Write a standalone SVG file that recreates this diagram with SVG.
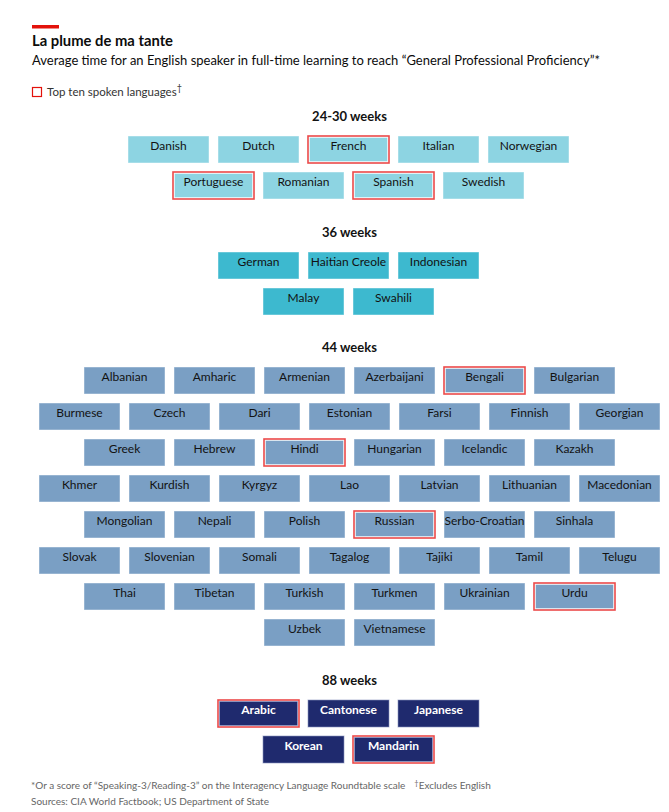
<svg xmlns="http://www.w3.org/2000/svg" width="669" height="812" viewBox="0 0 669 812">
<style>
text{font-family:Lato,"Noto Sans","Liberation Sans",sans-serif;}
.t{font-size:12px;fill:#121212;text-anchor:middle;}
.tw{font-size:12px;fill:#fff;font-weight:bold;text-anchor:middle;}
.h{font-size:13px;font-weight:bold;fill:#121212;text-anchor:middle;}
.b rect{stroke:#ffffff;stroke-opacity:0.45;stroke-width:1;}
.a rect{fill:#8dd4e2;}
.c rect{fill:#3db9cf;}
.d rect{fill:#7a9fc4;}
.e rect{fill:#1f2a6e;stroke:#8a92c0;stroke-opacity:0.6;}
.r rect.o{fill:none;stroke:#ec4a4a;stroke-opacity:1;stroke-width:1.6;}
.f{font-size:10px;fill:#666;}
</style>
<rect x="0" y="0" width="669" height="812" fill="#fff"/>
<g id="header">
<rect x="32" y="25" width="27" height="3.5" fill="#e3120b"/>
<text x="32" y="46" font-size="14.5" font-weight="bold" fill="#0c0c0c" textLength="141" lengthAdjust="spacingAndGlyphs">La plume de ma tante</text>
<text x="32" y="65" font-size="13" fill="#0c0c0c" textLength="568" lengthAdjust="spacingAndGlyphs">Average time for an English speaker in full-time learning to reach “General Professional Proficiency”*</text>
</g>
<g id="legend">
<rect x="32.5" y="87.5" width="9" height="9" fill="none" stroke="#e3120b" stroke-width="1.2"/>
<text x="47" y="96" font-size="11.5" fill="#333">Top ten spoken languages<tspan dy="-5" font-size="9">†</tspan></text>
</g>
<g id="headings">
<text class="h" x="349.5" y="121">24-30 weeks</text>
<text class="h" x="349.5" y="237">36 weeks</text>
<text class="h" x="349.5" y="352">44 weeks</text>
<text class="h" x="349.5" y="685">88 weeks</text>
</g>
<g id="connectors"></g>

<g id="g24" class="b a">
<g id="n-danish"><rect x="128" y="136" width="81" height="27"/><text class="t" x="168.5" y="150">Danish</text></g>
<g id="n-dutch"><rect x="218" y="136" width="81" height="27"/><text class="t" x="258.5" y="150">Dutch</text></g>
<g id="n-french" class="r"><rect x="309.5" y="137.5" width="78" height="24"/><rect class="o" x="308" y="136" width="81" height="27"/><text class="t" x="348.5" y="150">French</text></g>
<g id="n-italian"><rect x="398" y="136" width="81" height="27"/><text class="t" x="438.5" y="150">Italian</text></g>
<g id="n-norwegian"><rect x="488" y="136" width="81" height="27"/><text class="t" x="528.5" y="150">Norwegian</text></g>
<g id="n-portuguese" class="r"><rect x="174.5" y="173.5" width="78" height="24"/><rect class="o" x="173" y="172" width="81" height="27"/><text class="t" x="213.5" y="186">Portuguese</text></g>
<g id="n-romanian"><rect x="263" y="172" width="81" height="27"/><text class="t" x="303.5" y="186">Romanian</text></g>
<g id="n-spanish" class="r"><rect x="354.5" y="173.5" width="78" height="24"/><rect class="o" x="353" y="172" width="81" height="27"/><text class="t" x="393.5" y="186">Spanish</text></g>
<g id="n-swedish"><rect x="443" y="172" width="81" height="27"/><text class="t" x="483.5" y="186">Swedish</text></g>
</g>

<g id="g36" class="b c">
<g id="n-german"><rect x="218" y="252" width="81" height="27"/><text class="t" x="258.5" y="266">German</text></g>
<g id="n-haitian"><rect x="308" y="252" width="81" height="27"/><text class="t" x="348.5" y="266">Haitian Creole</text></g>
<g id="n-indonesian"><rect x="398" y="252" width="81" height="27"/><text class="t" x="438.5" y="266">Indonesian</text></g>
<g id="n-malay"><rect x="263" y="288" width="81" height="27"/><text class="t" x="303.5" y="302">Malay</text></g>
<g id="n-swahili"><rect x="353" y="288" width="81" height="27"/><text class="t" x="393.5" y="302">Swahili</text></g>
</g>

<g id="g44" class="b d">
<g id="n-albanian"><rect x="84" y="367" width="81" height="27"/><text class="t" x="124.5" y="381">Albanian</text></g>
<g id="n-amharic"><rect x="174" y="367" width="81" height="27"/><text class="t" x="214.5" y="381">Amharic</text></g>
<g id="n-armenian"><rect x="264" y="367" width="81" height="27"/><text class="t" x="304.5" y="381">Armenian</text></g>
<g id="n-azerbaijani"><rect x="354" y="367" width="81" height="27"/><text class="t" x="394.5" y="381">Azerbaijani</text></g>
<g id="n-bengali" class="r"><rect x="445.5" y="368.5" width="78" height="24"/><rect class="o" x="444" y="367" width="81" height="27"/><text class="t" x="484.5" y="381">Bengali</text></g>
<g id="n-bulgarian"><rect x="534" y="367" width="81" height="27"/><text class="t" x="574.5" y="381">Bulgarian</text></g>

<g id="n-burmese"><rect x="39" y="403" width="81" height="27"/><text class="t" x="79.5" y="417">Burmese</text></g>
<g id="n-czech"><rect x="129" y="403" width="81" height="27"/><text class="t" x="169.5" y="417">Czech</text></g>
<g id="n-dari"><rect x="219" y="403" width="81" height="27"/><text class="t" x="259.5" y="417">Dari</text></g>
<g id="n-estonian"><rect x="309" y="403" width="81" height="27"/><text class="t" x="349.5" y="417">Estonian</text></g>
<g id="n-farsi"><rect x="399" y="403" width="81" height="27"/><text class="t" x="439.5" y="417">Farsi</text></g>
<g id="n-finnish"><rect x="489" y="403" width="81" height="27"/><text class="t" x="529.5" y="417">Finnish</text></g>
<g id="n-georgian"><rect x="579" y="403" width="81" height="27"/><text class="t" x="619.5" y="417">Georgian</text></g>

<g id="n-greek"><rect x="84" y="439" width="81" height="27"/><text class="t" x="124.5" y="453">Greek</text></g>
<g id="n-hebrew"><rect x="174" y="439" width="81" height="27"/><text class="t" x="214.5" y="453">Hebrew</text></g>
<g id="n-hindi" class="r"><rect x="265.5" y="440.5" width="78" height="24"/><rect class="o" x="264" y="439" width="81" height="27"/><text class="t" x="304.5" y="453">Hindi</text></g>
<g id="n-hungarian"><rect x="354" y="439" width="81" height="27"/><text class="t" x="394.5" y="453">Hungarian</text></g>
<g id="n-icelandic"><rect x="444" y="439" width="81" height="27"/><text class="t" x="484.5" y="453">Icelandic</text></g>
<g id="n-kazakh"><rect x="534" y="439" width="81" height="27"/><text class="t" x="574.5" y="453">Kazakh</text></g>

<g id="n-khmer"><rect x="39" y="475" width="81" height="27"/><text class="t" x="79.5" y="489">Khmer</text></g>
<g id="n-kurdish"><rect x="129" y="475" width="81" height="27"/><text class="t" x="169.5" y="489">Kurdish</text></g>
<g id="n-kyrgyz"><rect x="219" y="475" width="81" height="27"/><text class="t" x="259.5" y="489">Kyrgyz</text></g>
<g id="n-lao"><rect x="309" y="475" width="81" height="27"/><text class="t" x="349.5" y="489">Lao</text></g>
<g id="n-latvian"><rect x="399" y="475" width="81" height="27"/><text class="t" x="439.5" y="489">Latvian</text></g>
<g id="n-lithuanian"><rect x="489" y="475" width="81" height="27"/><text class="t" x="529.5" y="489">Lithuanian</text></g>
<g id="n-macedonian"><rect x="579" y="475" width="81" height="27"/><text class="t" x="619.5" y="489">Macedonian</text></g>

<g id="n-mongolian"><rect x="84" y="511" width="81" height="27"/><text class="t" x="124.5" y="525">Mongolian</text></g>
<g id="n-nepali"><rect x="174" y="511" width="81" height="27"/><text class="t" x="214.5" y="525">Nepali</text></g>
<g id="n-polish"><rect x="264" y="511" width="81" height="27"/><text class="t" x="304.5" y="525">Polish</text></g>
<g id="n-russian" class="r"><rect x="355.5" y="512.5" width="78" height="24"/><rect class="o" x="354" y="511" width="81" height="27"/><text class="t" x="394.5" y="525">Russian</text></g>
<g id="n-serbo"><rect x="444" y="511" width="81" height="27"/><text class="t" x="484.5" y="525">Serbo-Croatian</text></g>
<g id="n-sinhala"><rect x="534" y="511" width="81" height="27"/><text class="t" x="574.5" y="525">Sinhala</text></g>

<g id="n-slovak"><rect x="39" y="547" width="81" height="27"/><text class="t" x="79.5" y="561">Slovak</text></g>
<g id="n-slovenian"><rect x="129" y="547" width="81" height="27"/><text class="t" x="169.5" y="561">Slovenian</text></g>
<g id="n-somali"><rect x="219" y="547" width="81" height="27"/><text class="t" x="259.5" y="561">Somali</text></g>
<g id="n-tagalog"><rect x="309" y="547" width="81" height="27"/><text class="t" x="349.5" y="561">Tagalog</text></g>
<g id="n-tajiki"><rect x="399" y="547" width="81" height="27"/><text class="t" x="439.5" y="561">Tajiki</text></g>
<g id="n-tamil"><rect x="489" y="547" width="81" height="27"/><text class="t" x="529.5" y="561">Tamil</text></g>
<g id="n-telugu"><rect x="579" y="547" width="81" height="27"/><text class="t" x="619.5" y="561">Telugu</text></g>

<g id="n-thai"><rect x="84" y="583" width="81" height="27"/><text class="t" x="124.5" y="597">Thai</text></g>
<g id="n-tibetan"><rect x="174" y="583" width="81" height="27"/><text class="t" x="214.5" y="597">Tibetan</text></g>
<g id="n-turkish"><rect x="264" y="583" width="81" height="27"/><text class="t" x="304.5" y="597">Turkish</text></g>
<g id="n-turkmen"><rect x="354" y="583" width="81" height="27"/><text class="t" x="394.5" y="597">Turkmen</text></g>
<g id="n-ukrainian"><rect x="444" y="583" width="81" height="27"/><text class="t" x="484.5" y="597">Ukrainian</text></g>
<g id="n-urdu" class="r"><rect x="535.5" y="584.5" width="78" height="24"/><rect class="o" x="534" y="583" width="81" height="27"/><text class="t" x="574.5" y="597">Urdu</text></g>

<g id="n-uzbek"><rect x="264" y="619" width="81" height="27"/><text class="t" x="304.5" y="633">Uzbek</text></g>
<g id="n-vietnamese"><rect x="354" y="619" width="81" height="27"/><text class="t" x="394.5" y="633">Vietnamese</text></g>
</g>

<g id="g88" class="b e">
<g id="n-arabic" class="r"><rect x="219.5" y="701.5" width="78" height="24"/><rect class="o" x="218" y="700" width="81" height="27"/><text class="tw" x="258.5" y="714">Arabic</text></g>
<g id="n-cantonese"><rect x="308" y="700" width="81" height="27"/><text class="tw" x="348.5" y="714">Cantonese</text></g>
<g id="n-japanese"><rect x="398" y="700" width="81" height="27"/><text class="tw" x="438.5" y="714">Japanese</text></g>
<g id="n-korean"><rect x="263" y="736" width="81" height="27"/><text class="tw" x="303.5" y="750">Korean</text></g>
<g id="n-mandarin" class="r"><rect x="354.5" y="737.5" width="78" height="24"/><rect class="o" x="353" y="736" width="81" height="27"/><text class="tw" x="393.5" y="750">Mandarin</text></g>
</g>

<g id="footer">
<text class="f" x="31" y="789">*Or a score of “Speaking-3/Reading-3” on the Interagency Language Roundtable scale<tspan dx="9" dy="-3" font-size="7.5">†</tspan><tspan dy="3">Excludes English</tspan></text>
<text class="f" x="31" y="805">Sources: CIA World Factbook; US Department of State</text>
</g>
</svg>
